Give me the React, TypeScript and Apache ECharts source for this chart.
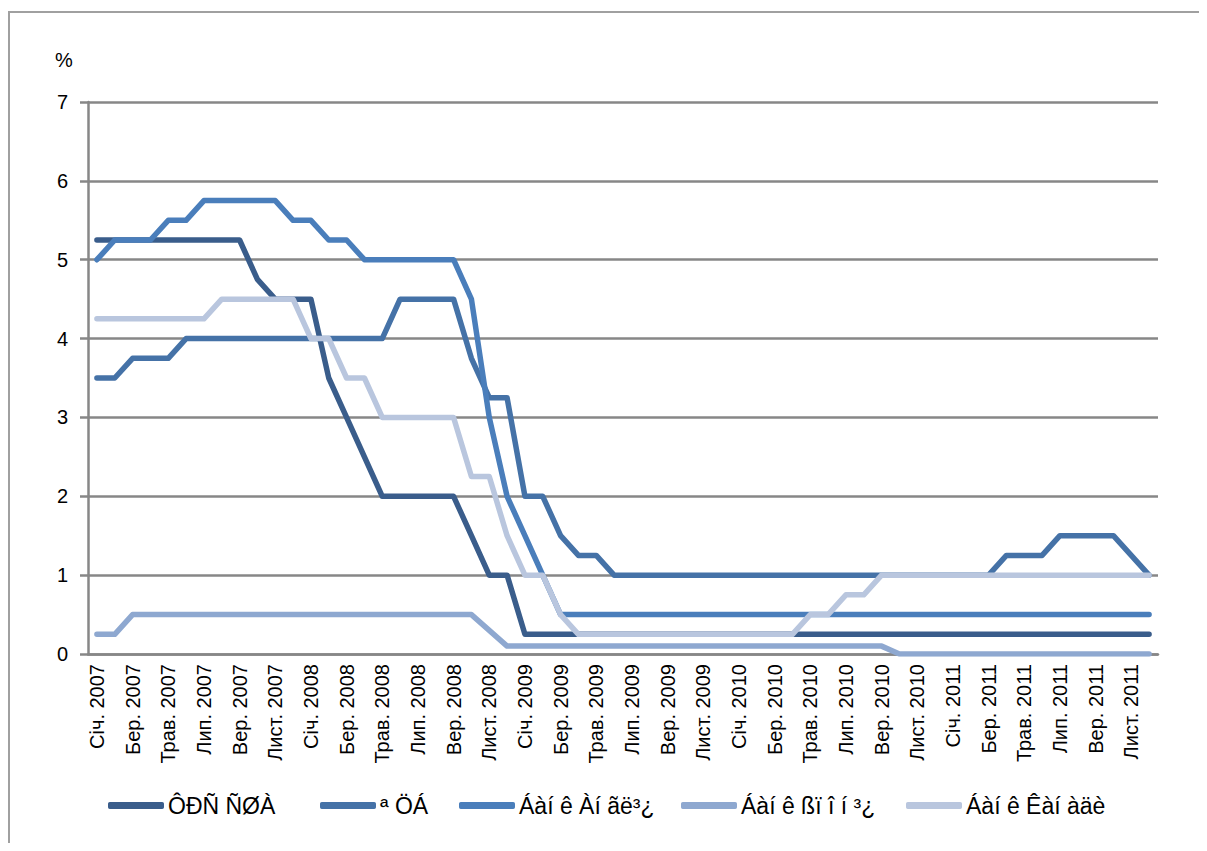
import React, { useEffect, useRef } from "react";
import * as echarts from "echarts";

const monthNames = ["Січ.", "Лют.", "Бер.", "Квіт.", "Трав.", "Черв.", "Лип.", "Серп.", "Вер.", "Жовт.", "Лист.", "Груд."];
const years = [2007, 2008, 2009, 2010, 2011];
const categories: string[] = [];
years.forEach((y) => monthNames.forEach((m) => categories.push(m + " " + y)));

const seriesNames = ["ÔÐÑ ÑØÀ", "ª ÖÁ", "Áàí ê Àí ãë³¿", "Áàí ê ßï î í ³¿", "Áàí ê Êàí àäè"];

// FRS USA
const frs = [
  5.25, 5.25, 5.25, 5.25, 5.25, 5.25, 5.25, 5.25, 5.25, 4.75, 4.5, 4.5,
  4.5, 3.5, 3.0, 2.5, 2.0, 2.0, 2.0, 2.0, 2.0, 1.5, 1.0, 1.0,
  0.25, 0.25, 0.25, 0.25, 0.25, 0.25, 0.25, 0.25, 0.25, 0.25, 0.25, 0.25,
  0.25, 0.25, 0.25, 0.25, 0.25, 0.25, 0.25, 0.25, 0.25, 0.25, 0.25, 0.25,
  0.25, 0.25, 0.25, 0.25, 0.25, 0.25, 0.25, 0.25, 0.25, 0.25, 0.25, 0.25,
];
// ECB
const ecb = [
  3.5, 3.5, 3.75, 3.75, 3.75, 4.0, 4.0, 4.0, 4.0, 4.0, 4.0, 4.0,
  4.0, 4.0, 4.0, 4.0, 4.0, 4.5, 4.5, 4.5, 4.5, 3.75, 3.25, 3.25,
  2.0, 2.0, 1.5, 1.25, 1.25, 1.0, 1.0, 1.0, 1.0, 1.0, 1.0, 1.0,
  1.0, 1.0, 1.0, 1.0, 1.0, 1.0, 1.0, 1.0, 1.0, 1.0, 1.0, 1.0,
  1.0, 1.0, 1.0, 1.25, 1.25, 1.25, 1.5, 1.5, 1.5, 1.5, 1.25, 1.0,
];
// Bank of England
const boe = [
  5.0, 5.25, 5.25, 5.25, 5.5, 5.5, 5.75, 5.75, 5.75, 5.75, 5.75, 5.5,
  5.5, 5.25, 5.25, 5.0, 5.0, 5.0, 5.0, 5.0, 5.0, 4.5, 3.0, 2.0,
  1.5, 1.0, 0.5, 0.5, 0.5, 0.5, 0.5, 0.5, 0.5, 0.5, 0.5, 0.5,
  0.5, 0.5, 0.5, 0.5, 0.5, 0.5, 0.5, 0.5, 0.5, 0.5, 0.5, 0.5,
  0.5, 0.5, 0.5, 0.5, 0.5, 0.5, 0.5, 0.5, 0.5, 0.5, 0.5, 0.5,
];
// Bank of Japan
const boj = [
  0.25, 0.25, 0.5, 0.5, 0.5, 0.5, 0.5, 0.5, 0.5, 0.5, 0.5, 0.5,
  0.5, 0.5, 0.5, 0.5, 0.5, 0.5, 0.5, 0.5, 0.5, 0.5, 0.3, 0.1,
  0.1, 0.1, 0.1, 0.1, 0.1, 0.1, 0.1, 0.1, 0.1, 0.1, 0.1, 0.1,
  0.1, 0.1, 0.1, 0.1, 0.1, 0.1, 0.1, 0.1, 0.1, 0.0, 0.0, 0.0,
  0.0, 0.0, 0.0, 0.0, 0.0, 0.0, 0.0, 0.0, 0.0, 0.0, 0.0, 0.0,
];
// Bank of Canada
const boc = [
  4.25, 4.25, 4.25, 4.25, 4.25, 4.25, 4.25, 4.5, 4.5, 4.5, 4.5, 4.5,
  4.0, 4.0, 3.5, 3.5, 3.0, 3.0, 3.0, 3.0, 3.0, 2.25, 2.25, 1.5,
  1.0, 1.0, 0.5, 0.25, 0.25, 0.25, 0.25, 0.25, 0.25, 0.25, 0.25, 0.25,
  0.25, 0.25, 0.25, 0.25, 0.5, 0.5, 0.75, 0.75, 1.0, 1.0, 1.0, 1.0,
  1.0, 1.0, 1.0, 1.0, 1.0, 1.0, 1.0, 1.0, 1.0, 1.0, 1.0, 1.0,
];

const seriesData = [frs, ecb, boe, boj, boc];
const colors = ["#3a5d8b", "#4572a7", "#4a7ebb", "#8ea8d0", "#b9c6de"];
const yTicks = [0, 1, 2, 3, 4, 5, 6, 7];
const legendLefts = [95, 307, 446, 668, 893];

const FONT = "'Liberation Sans', Arial, sans-serif";

export default function App() {
  const ref = useRef<HTMLDivElement>(null);
  useEffect(() => {
    if (!ref.current) return;
    document.documentElement.style.overflow = "hidden";
    document.body.style.overflow = "hidden";
    const chart = echarts.init(ref.current, null, { renderer: "svg" });
    chart.setOption({
      animation: false,
      textStyle: { fontFamily: FONT },
      color: colors,
      graphic: [
        {
          type: "polyline",
          silent: true,
          shape: { points: [[1, 843], [1, 4], [1199, 4]] },
          style: { fill: "none", stroke: "#a0a0a0", lineWidth: 2 },
          z: -10,
        },
        {
          type: "text",
          left: 47,
          top: 42,
          style: { text: "%", fontSize: 20, fontFamily: FONT, fill: "#000" },
        },
      ],
      grid: { left: 80, right: 49, top: 94, bottom: 189, containLabel: false },
      legend: seriesNames.map((name, i) => ({
        left: legendLefts[i],
        top: 781,
        itemWidth: 56,
        itemHeight: 7,
        itemGap: 4,
        icon: "roundRect",
        textStyle: { fontSize: 23, color: "#000", fontFamily: FONT, padding: [0, 0, 0, -1] },
        data: [name],
      })),
      xAxis: {
        type: "category",
        data: categories,
        boundaryGap: true,
        axisLine: { lineStyle: { color: "#878787", width: 2.5 } },
        axisTick: { interval: 1, length: 8, lineStyle: { color: "#878787", width: 2.5 } },
        axisLabel: {
          interval: 1,
          rotate: 90,
          margin: 10,
          fontSize: 20,
          color: "#000",
          fontFamily: FONT,
        },
        splitLine: { show: false },
      },
      yAxis: {
        type: "value",
        min: yTicks[0],
        max: yTicks[yTicks.length - 1],
        interval: 1,
        axisLine: { show: true, lineStyle: { color: "#878787", width: 2.5 } },
        axisTick: { show: true, length: 8, lineStyle: { color: "#878787", width: 2.5 } },
        axisLabel: { fontSize: 20, color: "#000", margin: 20, fontFamily: FONT },
        splitLine: { lineStyle: { color: "#878787", width: 2.5 } },
      },
      series: seriesNames.map((name, i) => ({
        name,
        type: "line",
        data: seriesData[i],
        symbol: "none",
        lineStyle: { width: 5.5, color: colors[i], cap: "round", join: "round" },
        itemStyle: { color: colors[i] },
      })),
    });
    return () => chart.dispose();
  }, []);

  return <div ref={ref} style={{ width: 1199, height: 835 }} />;
}
